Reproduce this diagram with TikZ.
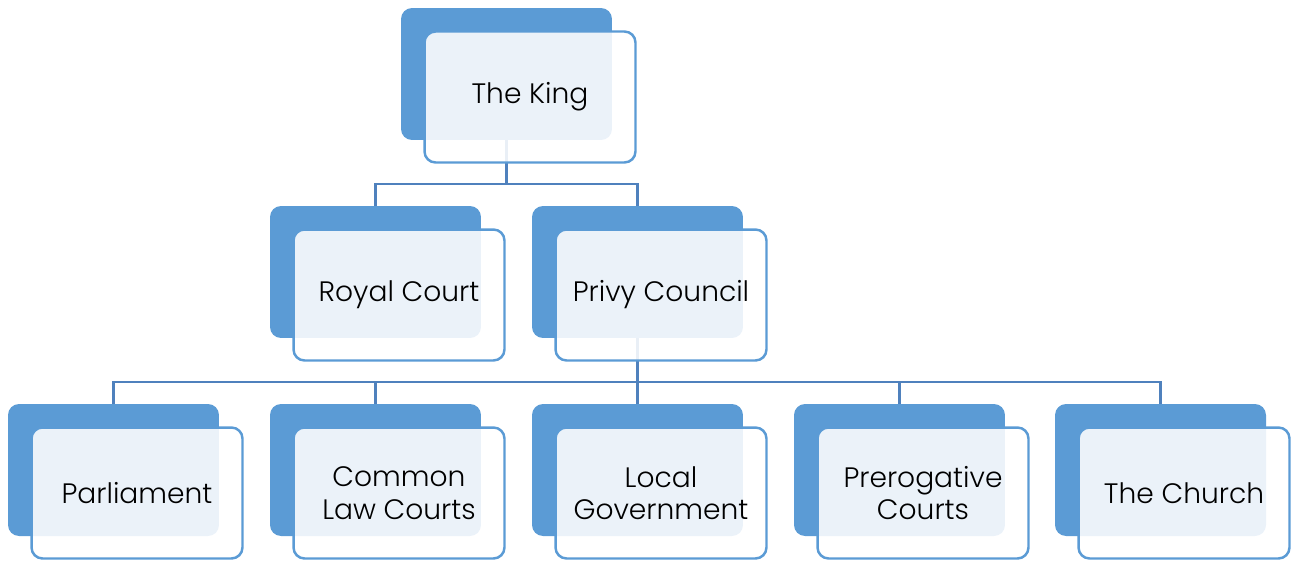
\documentclass[tikz,border=0pt]{standalone}
\usepackage{fontspec}
\setmainfont{Poppins}[UprightFont = * Light]
\definecolor{boxblue}{HTML}{5B9BD5}
\definecolor{linkblue}{HTML}{4F81BD}

\tikzstyle{backbox} = [rectangle, fill = boxblue, rounded corners = 0.22cm, minimum width = 4.22cm, minimum height = 2.64cm]
\tikzstyle{frontbox} = [rectangle, draw = boxblue, line width = 1.4pt, fill = white, fill opacity = 0.88, text opacity = 1, rounded corners = 0.22cm, minimum width = 4.22cm, minimum height = 2.62cm, align = center, font = \fontsize{16}{18.5}\selectfont]
\tikzstyle{link} = [draw = linkblue, line width = 1.4pt]

\begin{document}
\begin{tikzpicture}[x = 0.02cm, y = -0.02cm]
  \useasboundingbox (0, 0) rectangle (1293, 562);
  % back boxes
  \node[backbox] (king) at (506.5, 74) {};
  \node[backbox] (court) at (375.5, 272) {};
  \node[backbox] (council) at (637.5, 272) {};
  \foreach \x/\n in {113.5/parl, 375.5/law, 637.5/local, 899.5/prerog, 1160.5/church} {
    \node[backbox] (\n) at (\x, 470) {};
  }
  % links
  \coordinate (bus1) at (506.5, 184);
  \draw[link] (king.south) -- (bus1) -| (court.north);
  \draw[link] (bus1) -| (council.north);
  \coordinate (bus2) at (637.5, 382);
  \draw[link] (council.south) -- (bus2);
  \foreach \n in {parl, law, local, prerog, church} {
    \draw[link] (bus2) -| (\n.north);
  }
  % front boxes
  \node[frontbox] (kingf) at ([shift = {(23.5, 23)}] king.center) {The King};
  \node[frontbox] (courtf) at ([shift = {(23.5, 23)}] court.center) {Royal Court};
  \node[frontbox] (councilf) at ([shift = {(23.5, 23)}] council.center) {Privy Council};
  \foreach \n/\t in {parl/Parliament, law/{Common\\Law Courts}, local/{Local\\Government}, prerog/{Prerogative\\Courts}, church/The Church} {
    \node[frontbox] (\n f) at ([shift = {(23.5, 23)}] \n.center) {\t};
  }
\end{tikzpicture}
\end{document}
